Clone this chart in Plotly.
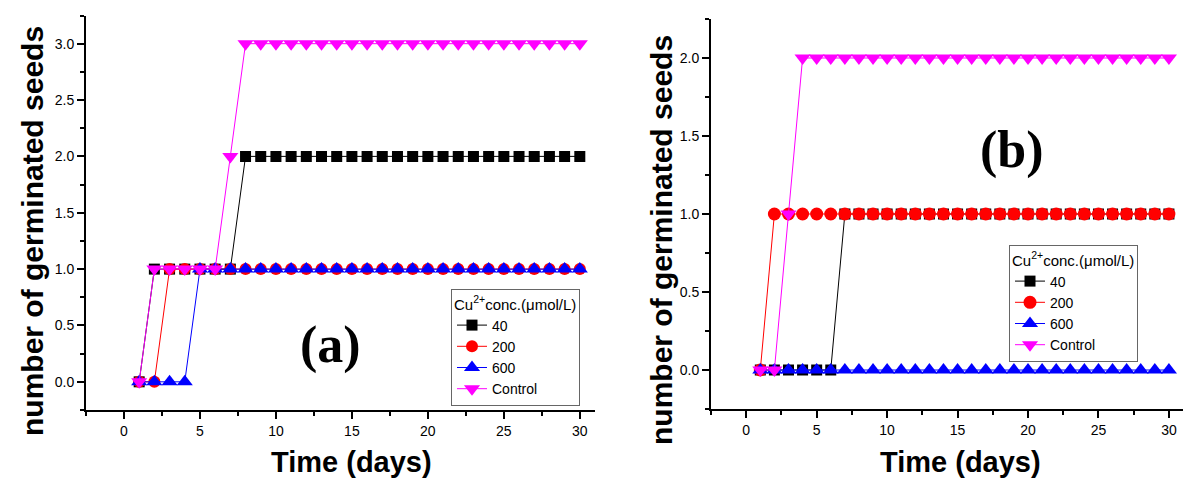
import plotly.graph_objects as go

# Germination counts per day for each Cu2+ concentration
days = list(range(1, 31))

a_40 = [0, 1, 1, 1, 1, 1, 1, 2, 2, 2, 2, 2, 2, 2, 2, 2, 2, 2, 2, 2, 2, 2, 2, 2, 2, 2, 2, 2, 2, 2]
a_200 = [0, 0, 1, 1, 1, 1, 1, 1, 1, 1, 1, 1, 1, 1, 1, 1, 1, 1, 1, 1, 1, 1, 1, 1, 1, 1, 1, 1, 1, 1]
a_600 = [0, 0, 0, 0, 1, 1, 1, 1, 1, 1, 1, 1, 1, 1, 1, 1, 1, 1, 1, 1, 1, 1, 1, 1, 1, 1, 1, 1, 1, 1]
a_ctrl = [0, 1, 1, 1, 1, 1, 2, 3, 3, 3, 3, 3, 3, 3, 3, 3, 3, 3, 3, 3, 3, 3, 3, 3, 3, 3, 3, 3, 3, 3]

b_40 = [0, 0, 0, 0, 0, 0, 1, 1, 1, 1, 1, 1, 1, 1, 1, 1, 1, 1, 1, 1, 1, 1, 1, 1, 1, 1, 1, 1, 1, 1]
b_200 = [0, 1, 1, 1, 1, 1, 1, 1, 1, 1, 1, 1, 1, 1, 1, 1, 1, 1, 1, 1, 1, 1, 1, 1, 1, 1, 1, 1, 1, 1]
b_600 = [0, 0, 0, 0, 0, 0, 0, 0, 0, 0, 0, 0, 0, 0, 0, 0, 0, 0, 0, 0, 0, 0, 0, 0, 0, 0, 0, 0, 0, 0]
b_ctrl = [0, 0, 1, 2, 2, 2, 2, 2, 2, 2, 2, 2, 2, 2, 2, 2, 2, 2, 2, 2, 2, 2, 2, 2, 2, 2, 2, 2, 2, 2]

series_names = ["40", "200", "600", "Control"]
colors = ["#000000", "#FF0000", "#0000FF", "#FF00FF"]
symbols = ["square", "circle", "triangle-up", "triangle-down"]
sizes_a = [11, 12, 14, 14]
sizes_b = [11, 13, 14, 14]

fig = go.Figure()

for vals, name, col, sym, sz in zip([a_40, a_200, a_600, a_ctrl], series_names, colors, symbols, sizes_a):
    fig.add_trace(go.Scatter(
        x=days, y=vals, name=name, mode="lines+markers",
        line=dict(color=col, width=1),
        marker=dict(symbol=sym, size=sz, color=col, line=dict(width=0)),
        xaxis="x", yaxis="y", legend="legend",
    ))

for vals, name, col, sym, sz in zip([b_40, b_200, b_600, b_ctrl], series_names, colors, symbols, sizes_b):
    fig.add_trace(go.Scatter(
        x=days, y=vals, name=name, mode="lines+markers",
        line=dict(color=col, width=1),
        marker=dict(symbol=sym, size=sz, color=col, line=dict(width=0)),
        xaxis="x2", yaxis="y2", legend="legend2",
    ))

W, H = 1195, 480
tick_font = dict(family="Liberation Sans, Arial, sans-serif", size=14, color="#000000")

axis_common = dict(
    showline=True, linecolor="#000000", linewidth=2,
    ticks="outside", ticklen=7, tickwidth=1.5, tickcolor="#000000",
    showgrid=False, zeroline=False, mirror=False,
    tickfont=tick_font,
)

xa = dict(axis_common, range=[-2.5, 31], tickvals=[0, 5, 10, 15, 20, 25, 30],
          minor=dict(ticks="outside", ticklen=4, tickwidth=1.5, tickcolor="#000000", dtick=2.5, tick0=0))
ya_a = dict(axis_common, range=[-0.25, 3.25], tickvals=[0, 0.5, 1, 1.5, 2, 2.5, 3],
            tickformat=".1f",
            minor=dict(ticks="outside", ticklen=4, tickwidth=1.5, tickcolor="#000000", dtick=0.25, tick0=0))
ya_b = dict(axis_common, range=[-0.25, 2.25], tickvals=[0, 0.5, 1, 1.5, 2],
            tickformat=".1f",
            minor=dict(ticks="outside", ticklen=4, tickwidth=1.5, tickcolor="#000000", dtick=0.25, tick0=0))

legend_style = dict(
    bgcolor="#FFFFFF", bordercolor="#666666", borderwidth=1,
    font=dict(family="Liberation Sans, Arial, sans-serif", size=14, color="#000000"),
    title=dict(text="Cu<sup>2+</sup>conc.(μmol/L)", side="top",
               font=dict(family="Liberation Sans, Arial, sans-serif", size=15, color="#000000")),
    xanchor="left", yanchor="top", itemwidth=30,
)

title_font = dict(family="Liberation Sans, Arial, sans-serif", size=29, color="#000000")
panel_font = dict(family="Liberation Serif, Times New Roman, serif", size=52, color="#000000")

fig.update_layout(
    width=W, height=H,
    margin=dict(l=0, r=0, t=0, b=0),
    paper_bgcolor="#FFFFFF", plot_bgcolor="#FFFFFF",
    xaxis=dict(xa, domain=[86 / W, 595 / W], anchor="y"),
    yaxis=dict(ya_a, domain=[1 - 410 / H, 1 - 15.5 / H], anchor="x"),
    xaxis2=dict(xa, domain=[711 / W, 1183 / W], anchor="y2"),
    yaxis2=dict(ya_b, domain=[1 - 409 / H, 1 - 19 / H], anchor="x2"),
    legend=dict(legend_style, x=451 / W, y=1 - 289 / H),
    legend2=dict(legend_style, x=1009 / W, y=1 - 245 / H),
    annotations=[
        dict(text="<b>number of germinated seeds</b>", textangle=-90, x=33 / W, y=1 - 231 / H,
             xref="paper", yref="paper", showarrow=False, font=dict(title_font, size=30),
             xanchor="center", yanchor="middle"),
        dict(text="<b>number of germinated seeds</b>", textangle=-90, x=661 / W, y=1 - 240 / H,
             xref="paper", yref="paper", showarrow=False, font=dict(title_font, size=30),
             xanchor="center", yanchor="middle"),
        dict(text="<b>Time (days)</b>", x=351 / W, y=1 - 462 / H,
             xref="paper", yref="paper", showarrow=False, font=title_font,
             xanchor="center", yanchor="middle"),
        dict(text="<b>Time (days)</b>", x=960 / W, y=1 - 462 / H,
             xref="paper", yref="paper", showarrow=False, font=title_font,
             xanchor="center", yanchor="middle"),
        dict(text="<b>(a)</b>", x=330 / W, y=1 - 345 / H,
             xref="paper", yref="paper", showarrow=False, font=panel_font,
             xanchor="center", yanchor="middle"),
        dict(text="<b>(b)</b>", x=1012 / W, y=1 - 150 / H,
             xref="paper", yref="paper", showarrow=False, font=panel_font,
             xanchor="center", yanchor="middle"),
    ],
)

fig.write_html("out.html")
